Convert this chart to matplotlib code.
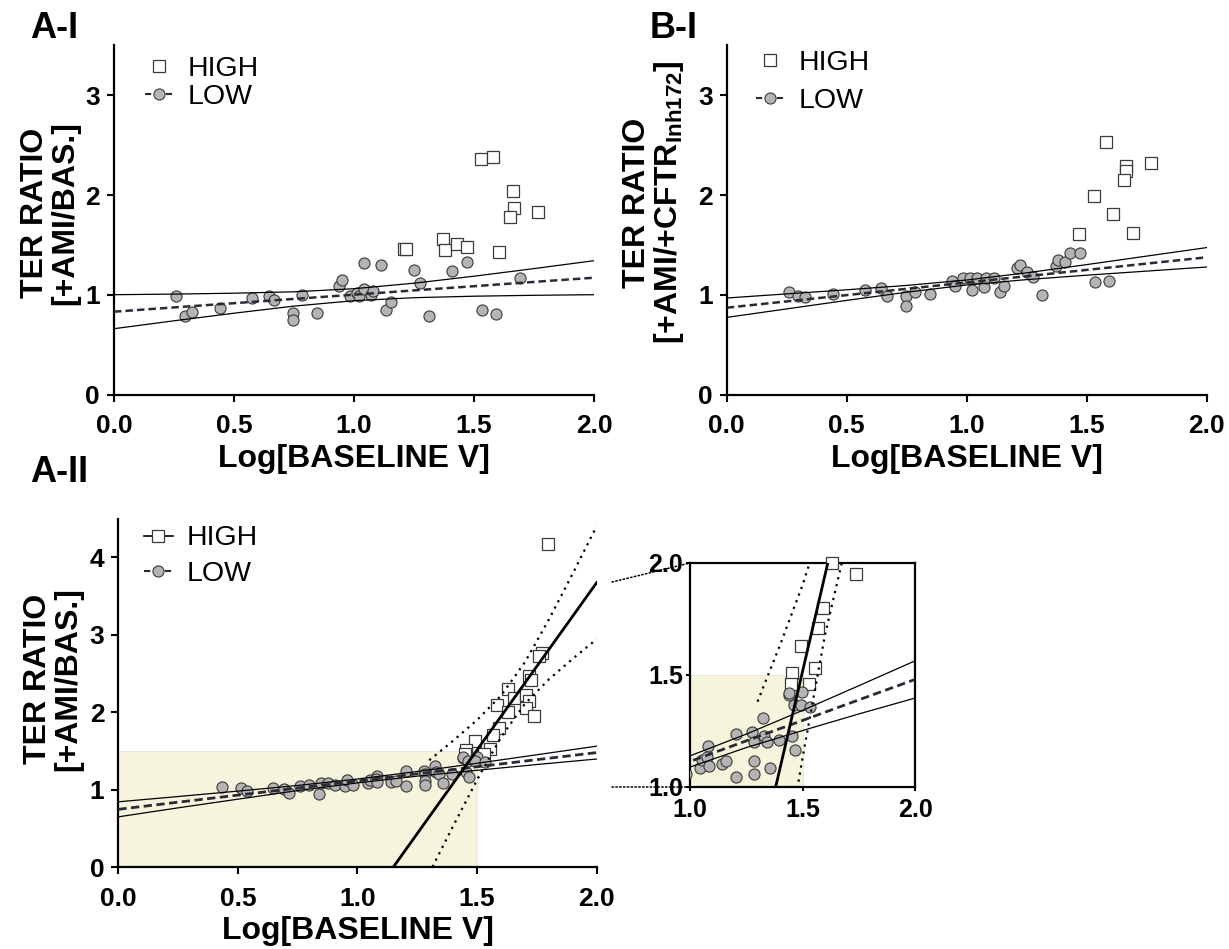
import matplotlib
matplotlib.use("Agg")
import matplotlib.pyplot as plt
from matplotlib.lines import Line2D
from matplotlib.patches import Rectangle, ConnectionPatch

plt.rcParams['font.family'] = ['Liberation Sans', 'DejaVu Sans']
plt.rcParams['mathtext.fontset'] = 'custom'
plt.rcParams['mathtext.bf'] = 'Liberation Sans:bold'
plt.rcParams['mathtext.rm'] = 'Liberation Sans'

# ---- data ----
# A-I  (TER ratio +AMI / basal)
a1_high_x = [1.528, 1.579, 1.661, 1.667, 1.651, 1.768, 1.207, 1.218, 1.371, 1.381, 1.429, 1.469, 1.606]
a1_high_y = [2.36, 2.38, 2.04, 1.87, 1.78, 1.83, 1.457, 1.463, 1.563, 1.453, 1.513, 1.483, 1.427]
a1_low_x = [0.258, 0.294, 0.324, 0.442, 0.575, 0.644, 0.665, 0.744, 0.744, 0.782, 0.847,
            0.939, 0.949, 0.982, 1.013, 1.022, 1.042, 1.042, 1.071, 1.081, 1.111, 1.135,
            1.153, 1.249, 1.275, 1.313, 1.407, 1.471, 1.532, 1.590, 1.692]
a1_low_y = [0.993, 0.787, 0.833, 0.867, 0.973, 0.99, 0.947, 0.817, 0.747, 1.003, 0.817,
            1.087, 1.147, 0.993, 1.023, 0.99, 1.323, 1.057, 1.0, 1.043, 1.303, 0.85,
            0.927, 1.247, 1.117, 0.787, 1.237, 1.333, 0.847, 0.807, 1.173]

# B-I  (TER ratio +AMI / +CFTRinh172)
b1_high_x = [1.579, 1.665, 1.663, 1.654, 1.768, 1.531, 1.608, 1.469, 1.693]
b1_high_y = [2.53, 2.293, 2.243, 2.15, 2.323, 1.993, 1.813, 1.607, 1.623]
b1_low_x = [0.26, 0.297, 0.328, 0.444, 0.575, 0.644, 0.668, 0.747, 0.746, 0.785, 0.847,
            0.94, 0.95, 0.985, 1.014, 1.024, 1.042, 1.074, 1.082, 1.114, 1.139, 1.154,
            1.208, 1.221, 1.25, 1.278, 1.313, 1.372, 1.381, 1.411, 1.431, 1.474, 1.535, 1.593]
b1_low_y = [1.027, 0.99, 0.983, 1.013, 1.047, 1.067, 0.987, 0.993, 0.887, 1.027, 1.007,
            1.14, 1.09, 1.167, 1.167, 1.047, 1.173, 1.077, 1.167, 1.167, 1.027, 1.087,
            1.267, 1.297, 1.227, 1.18, 1.003, 1.293, 1.347, 1.327, 1.417, 1.417, 1.127, 1.137]

# A-II (pooled, with zoom inset)
a2_high_x = [1.797, 1.770, 1.760, 1.718, 1.725, 1.630, 1.582, 1.655, 1.704, 1.718, 1.704,
             1.736, 1.630, 1.593, 1.567, 1.493, 1.554, 1.452, 1.449, 1.530]
a2_high_y = [4.17, 2.77, 2.72, 2.47, 2.41, 2.30, 2.09, 2.18, 2.22, 2.14, 2.05,
             1.95, 2.00, 1.80, 1.71, 1.63, 1.53, 1.51, 1.46, 1.46]
a2_low_x = [0.434, 0.514, 0.538, 0.648, 0.693, 0.712, 0.760, 0.799, 0.841, 0.848, 0.877,
            0.908, 0.948, 0.958, 0.980, 1.044, 1.052, 1.081, 1.077, 1.083, 1.141, 1.160,
            1.204, 1.204, 1.277, 1.284, 1.283, 1.283, 1.324, 1.329, 1.341, 1.357, 1.397,
            1.441, 1.439, 1.455, 1.468, 1.499, 1.462, 1.492, 1.533]
a2_low_y = [1.032, 1.028, 0.985, 1.028, 1.006, 0.963, 1.049, 1.062, 0.946, 1.092, 1.084,
            1.058, 1.049, 1.127, 1.058, 1.085, 1.122, 1.181, 1.136, 1.095, 1.104, 1.114,
            1.236, 1.045, 1.245, 1.203, 1.117, 1.056, 1.307, 1.226, 1.203, 1.085, 1.208,
            1.411, 1.418, 1.226, 1.166, 1.426, 1.366, 1.366, 1.359]

# fitted lines / 95% bands as drawn in the figure
band_x = [0, 0.25, 0.5, 0.75, 1.0, 1.25, 1.5, 1.75, 2.0]
a1_fit = [0.833, 0.876, 0.918, 0.961, 1.003, 1.046, 1.088, 1.131, 1.173]
a1_up = [1.003, 1.009, 1.018, 1.032, 1.063, 1.118, 1.188, 1.264, 1.343]
a1_lo = [0.663, 0.742, 0.818, 0.889, 0.943, 0.973, 0.988, 0.997, 1.003]
b1_fit = [0.873, 0.936, 0.999, 1.062, 1.125, 1.188, 1.251, 1.314, 1.377]
b1_up = [0.970, 1.011, 1.052, 1.096, 1.150, 1.222, 1.304, 1.389, 1.474]
b1_lo = [0.776, 0.861, 0.946, 1.028, 1.100, 1.154, 1.198, 1.239, 1.280]
a2_fit = [0.748, 0.840, 0.931, 1.023, 1.114, 1.206, 1.297, 1.389, 1.480]
a2_up = [0.845, 0.913, 0.983, 1.056, 1.139, 1.236, 1.342, 1.452, 1.563]
a2_lo = [0.651, 0.767, 0.879, 0.990, 1.089, 1.176, 1.252, 1.326, 1.397]

high_fit_x = [1.149, 2.0]
high_fit_y = [0.0, 3.673]
high_band_x = [1.3, 1.4, 1.5, 1.6, 1.7, 1.8, 1.9, 2.0]
high_up = [1.381, 1.633, 1.901, 2.215, 2.646, 3.196, 3.791, 4.402]
high_lo = [-0.077, 0.533, 1.129, 1.679, 2.110, 2.424, 2.691, 2.944]

# ---- styles ----
GREY = '#b4b4b4'
EDGE = '#3a3a3a'
YELLOW = '#f6f4dc'
DASH_COL = '#2a2a36'
TICK_FS = 19
LAB_FS = 23
LEG_FS = 20.5

circ = dict(ls='none', marker='o', ms=8, mfc=GREY, mec=EDGE, mew=0.8, zorder=3)
sq = dict(ls='none', marker='s', ms=8, mfc='white', mec=EDGE, mew=0.9, zorder=3)


def style_axes(ax, xlim, ylim, xticks, yticks):
    ax.set_xlim(*xlim)
    ax.set_ylim(*ylim)
    ax.set_xticks(xticks)
    ax.set_yticks(yticks)
    ax.set_xticklabels([f'{t:.1f}' for t in xticks])
    ax.spines['top'].set_visible(False)
    ax.spines['right'].set_visible(False)
    for s in ('left', 'bottom'):
        ax.spines[s].set_linewidth(1.6)
    ax.tick_params(direction='out', length=5, width=1.5, labelsize=TICK_FS, pad=5)
    ax.tick_params(axis='x', pad=9)
    for lbl in ax.get_xticklabels() + ax.get_yticklabels():
        lbl.set_fontweight('bold')


def low_lines(ax, fit, up, lo, dash_lw=1.8):
    ax.plot(band_x, up, color='black', lw=0.9, zorder=4)
    ax.plot(band_x, lo, color='black', lw=0.9, zorder=4)
    ax.plot(band_x, fit, color=DASH_COL, lw=dash_lw, ls=(0, (3, 1.6)), zorder=4)


def high_lines(ax):
    ax.plot(high_fit_x, high_fit_y, color='black', lw=2.0, zorder=4)
    ax.plot(high_band_x, high_up, color='black', lw=1.6, ls=(0, (1, 2.2)), zorder=4)
    ax.plot(high_band_x, high_lo, color='black', lw=1.6, ls=(0, (1, 2.2)), zorder=4)


def add_legend(ax, anchor, spacing, high_line=False):
    h_high = Line2D([], [], color='black', lw=1.2 if high_line else 0,
                    marker='s', ms=8, mfc='white', mec=EDGE, mew=0.9)
    h_low = Line2D([], [], color=DASH_COL, lw=1.5, ls=(0, (3, 2)),
                   marker='o', ms=8, mfc=GREY, mec=EDGE, mew=0.8)
    ax.legend([h_high, h_low], ['HIGH', 'LOW'], loc='upper left', bbox_to_anchor=anchor,
              frameon=False, fontsize=LEG_FS, handlelength=1.0, handletextpad=0.5,
              labelspacing=spacing, borderpad=0, borderaxespad=0)


fig = plt.figure(figsize=(12.29, 9.49), dpi=100)

# ---- A-I ----
ax1 = fig.add_axes([114 / 1229, 1 - 395 / 949, 480 / 1229, 350 / 949])
ax1.plot(a1_high_x, a1_high_y, **sq)
ax1.plot(a1_low_x, a1_low_y, **circ)
low_lines(ax1, a1_fit, a1_up, a1_lo)
style_axes(ax1, (0, 2), (0, 3.5), [0, 0.5, 1.0, 1.5, 2.0], [0, 1, 2, 3])
ax1.set_xlabel('Log[BASELINE V]', fontsize=LAB_FS, fontweight='bold', labelpad=4)
ax1.set_ylabel('TER RATIO\n[+AMI/BAS.]', fontsize=LAB_FS, fontweight='bold', linespacing=1.0)
ax1.yaxis.set_label_coords(-0.07, 0.52)
add_legend(ax1, (0.065, 0.97), 0.1)

# ---- B-I ----
ax2 = fig.add_axes([726.7 / 1229, 1 - 395 / 949, 480 / 1229, 350 / 949])
ax2.plot(b1_high_x, b1_high_y, **sq)
ax2.plot(b1_low_x, b1_low_y, **circ)
low_lines(ax2, b1_fit, b1_up, b1_lo)
style_axes(ax2, (0, 2), (0, 3.5), [0, 0.5, 1.0, 1.5, 2.0], [0, 1, 2, 3])
ax2.set_xlabel('Log[BASELINE V]', fontsize=LAB_FS, fontweight='bold', labelpad=4)
ax2.set_ylabel('TER RATIO\n[+AMI/+CFTR$_{\\mathbf{Inh172}}$]', fontsize=LAB_FS,
               fontweight='bold', linespacing=1.0)
ax2.yaxis.set_label_coords(-0.085, 0.55)
add_legend(ax2, (0.06, 0.985), 0.4)

# ---- A-II ----
ax3 = fig.add_axes([118.3 / 1229, 1 - 867.3 / 949, 478.4 / 1229, 348.8 / 949])
ax3.add_patch(Rectangle((0, 0), 1.5, 1.5, facecolor=YELLOW, edgecolor='#e4e4dc', lw=0.6, zorder=0))
ax3.plot(a2_high_x, a2_high_y, **sq)
ax3.plot(a2_low_x, a2_low_y, **circ)
low_lines(ax3, a2_fit, a2_up, a2_lo, dash_lw=2.0)
high_lines(ax3)
style_axes(ax3, (0, 2), (0, 4.5), [0, 0.5, 1.0, 1.5, 2.0], [0, 1, 2, 3, 4])
ax3.set_xlabel('Log[BASELINE V]', fontsize=LAB_FS, fontweight='bold', labelpad=4)
ax3.set_ylabel('TER RATIO\n[+AMI/BAS.]', fontsize=LAB_FS, fontweight='bold', linespacing=1.0)
ax3.yaxis.set_label_coords(-0.074, 0.54)
add_legend(ax3, (0.054, 0.98), 0.35, high_line=True)

# ---- inset (zoom of A-II) ----
ax4 = fig.add_axes([690 / 1229, 1 - 787 / 949, 225 / 1229, 224 / 949])
ax4.add_patch(Rectangle((0, 0), 1.5, 1.5, facecolor=YELLOW, edgecolor='#e4e4dc', lw=0.6, zorder=0))
# HIGH points inside the zoomed window are drawn unclipped (one sits on the top edge)
in_x = [x for x, y in zip(a2_high_x, a2_high_y) if 1.0 <= x <= 2.0 and 1.0 <= y <= 2.0]
in_y = [y for x, y in zip(a2_high_x, a2_high_y) if 1.0 <= x <= 2.0 and 1.0 <= y <= 2.0]
ax4.plot(in_x, in_y, clip_on=False, **sq)
ax4.plot(a2_low_x, a2_low_y, **circ)
low_lines(ax4, a2_fit, a2_up, a2_lo, dash_lw=2.0)
high_lines(ax4)
ax4.set_xlim(1, 2)
ax4.set_ylim(1, 2)
ax4.set_xticks([1.0, 1.5, 2.0])
ax4.set_yticks([1.0, 1.5, 2.0])
ax4.set_xticklabels(['1.0', '1.5', '2.0'])
ax4.set_yticklabels(['1.0', '1.5', '2.0'])
for s in ax4.spines.values():
    s.set_linewidth(1.6)
ax4.tick_params(direction='out', length=3, width=1.5, labelsize=18, pad=2)
ax4.tick_params(axis='x', pad=5)
for lbl in ax4.get_xticklabels() + ax4.get_yticklabels():
    lbl.set_fontweight('bold')

# dotted connectors from A-II to the inset
for (xa, ya), (xb, yb) in [((2.064, 3.68), (1.0, 2.0)), ((2.064, 1.036), (1.0, 1.0))]:
    con = ConnectionPatch(xyA=(xa, ya), coordsA=ax3.transData, xyB=(xb, yb),
                          coordsB=ax4.transData, color='black', lw=1.1, ls=(0, (1, 1.5)))
    fig.add_artist(con)

# panel letters
for txt, x, y in [('A-I', 30, 38), ('B-I', 650, 38), ('A-II', 30, 482)]:
    fig.text(x / 1229, 1 - y / 949, txt, fontsize=26, fontweight='bold', va='baseline', ha='left')

fig.savefig('out.png', dpi=100)
